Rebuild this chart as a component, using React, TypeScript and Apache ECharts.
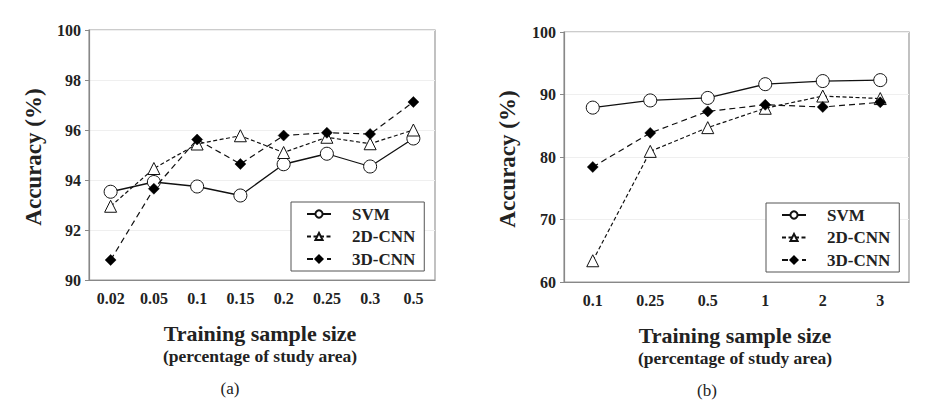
import React, { useEffect, useRef } from "react";
import * as echarts from "echarts";

const categoriesA = ["0.02", "0.05", "0.1", "0.15", "0.2", "0.25", "0.3", "0.5"];
const svmA = [93.53, 93.92, 93.74, 93.38, 94.63, 95.05, 94.54, 95.66];
const cnn2dA = [92.95, 94.46, 95.44, 95.77, 95.1, 95.71, 95.45, 96.0];
const cnn3dA = [90.8, 93.65, 95.62, 94.64, 95.78, 95.89, 95.84, 97.12];

const categoriesB = ["0.1", "0.25", "0.5", "1", "2", "3"];
const svmB = [87.9, 89.05, 89.45, 91.65, 92.15, 92.3];
const cnn2dB = [63.4, 80.9, 84.7, 87.8, 89.75, 89.35];
const cnn3dB = [78.4, 83.85, 87.3, 88.35, 88.0, 88.75];

const seriesNames = ["SVM", "2D-CNN", "3D-CNN"];

const FONT = "'Liberation Serif', 'Times New Roman', serif";

function makeSeries(idx: number, data: number[][]) {
  return [
    {
      name: seriesNames[0],
      type: "line",
      xAxisIndex: idx,
      yAxisIndex: idx,
      data: data[0],
      symbol: "circle",
      symbolSize: 13,
      itemStyle: { color: "#fff", borderColor: "#111", borderWidth: 1 },
      lineStyle: { color: "#111", width: 1.3, type: "solid" },
      z: 3,
    },
    {
      name: seriesNames[1],
      type: "line",
      xAxisIndex: idx,
      yAxisIndex: idx,
      data: data[1],
      symbol: "triangle",
      symbolSize: 12,
      itemStyle: { color: "#fff", borderColor: "#111", borderWidth: 1 },
      lineStyle: { color: "#111", width: 1.2, type: [4, 2.5] },
      z: 4,
    },
    {
      name: seriesNames[2],
      type: "line",
      xAxisIndex: idx,
      yAxisIndex: idx,
      data: data[2],
      symbol: "diamond",
      symbolSize: 11,
      itemStyle: { color: "#000", borderColor: "#000", borderWidth: 0.5 },
      lineStyle: { color: "#111", width: 1.2, type: [6, 4] },
      z: 5,
    },
  ];
}

function makeLegend(left: number, top: number) {
  return {
    left,
    top,
    orient: "vertical",
    data: seriesNames,
    itemWidth: 24,
    itemHeight: 9,
    itemGap: 4.5,
    padding: [3, 9, 3, 15],
    borderColor: "#555",
    borderWidth: 1,
    backgroundColor: "#fff",
    textStyle: {
      fontFamily: FONT,
      fontWeight: "bold",
      fontSize: 17,
      color: "#222",
      lineHeight: 18,
      padding: [0, 0, 0, 16],
    },
  };
}

function makeX(idx: number, cats: string[]) {
  return {
    type: "category",
    gridIndex: idx,
    data: cats,
    boundaryGap: true,
    axisLine: { lineStyle: { color: "#888", width: 1.2 } },
    axisTick: { alignWithLabel: true, length: 4, lineStyle: { color: "#888" } },
    axisLabel: {
      fontFamily: FONT,
      fontWeight: "bold",
      fontSize: 16,
      color: "#222",
      margin: 10,
      interval: 0,
    },
    splitLine: { show: false },
  };
}

function makeY(idx: number, min: number, max: number, interval: number) {
  return {
    type: "value",
    gridIndex: idx,
    min,
    max,
    interval,
    axisLine: { show: true, lineStyle: { color: "#888", width: 1.2 } },
    axisTick: { show: true, length: 4, lineStyle: { color: "#888" } },
    axisLabel: {
      fontFamily: FONT,
      fontWeight: "bold",
      fontSize: 16,
      color: "#222",
      margin: 8,
    },
    splitLine: { show: true, lineStyle: { color: "#efefef", width: 1 } },
  };
}

function textG(x: number, y: number, text: string, size: number, bold: boolean, rotate = 0) {
  return {
    type: "text",
    x,
    y,
    rotation: rotate,
    style: {
      text,
      fill: "#222",
      font: `${bold ? "bold " : ""}${size}px ${FONT}`,
      textAlign: "center",
      textVerticalAlign: "middle",
    },
  };
}

export default function App() {
  const ref = useRef<HTMLDivElement>(null);
  useEffect(() => {
    if (!ref.current) return;
    const chart = echarts.init(ref.current, undefined, { renderer: "svg" });
    chart.setOption({
      animation: false,
      backgroundColor: "#fff",
      grid: [
        { left: 89, top: 30, width: 346, height: 250, show: true, borderColor: "#999", borderWidth: 1.2 },
        { left: 564, top: 32, width: 345, height: 250, show: true, borderColor: "#999", borderWidth: 1.2 },
      ],
      xAxis: [makeX(0, categoriesA), makeX(1, categoriesB)],
      yAxis: [makeY(0, 90, 100, 2), makeY(1, 60, 100, 10)],
      legend: [makeLegend(291, 202), makeLegend(766, 203)],
      series: [
        ...makeSeries(0, [svmA, cnn2dA, cnn3dA]),
        ...makeSeries(1, [svmB, cnn2dB, cnn3dB]),
      ],
      graphic: [
        textG(33, 157, "Accuracy (%)", 23, true, Math.PI / 2),
        textG(507, 159, "Accuracy (%)", 23, true, Math.PI / 2),
        textG(260, 333, "Training sample size", 22, true),
        textG(260, 356, "(percentage of study area)", 17.5, true),
        textG(230, 388, "(a)", 17, false),
        textG(735, 335, "Training sample size", 22, true),
        textG(735, 358, "(percentage of study area)", 17.5, true),
        textG(707, 390, "(b)", 17, false),
      ],
    });
    return () => chart.dispose();
  }, []);
  return (
    <div
      ref={ref}
      style={{ position: "fixed", left: 0, top: 0, width: 926, height: 407, background: "#fff" }}
    />
  );
}
